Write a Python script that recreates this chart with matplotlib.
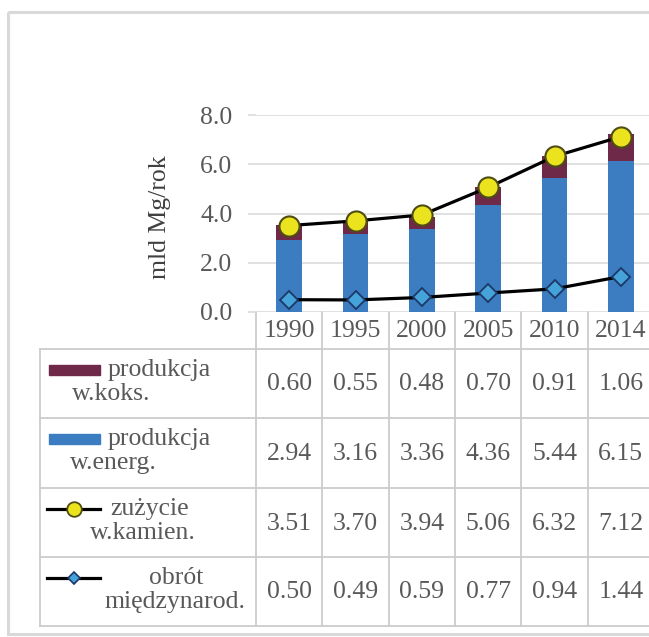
import numpy as np
import matplotlib
matplotlib.use('Agg')
import matplotlib.pyplot as plt
from matplotlib import transforms
from matplotlib.patches import Rectangle

# data (mld Mg/rok)
years = ['1990', '1995', '2000', '2005', '2010', '2014']
koks = [0.60, 0.55, 0.48, 0.70, 0.91, 1.06]
energ = [2.94, 3.16, 3.36, 4.36, 5.44, 6.15]
zuzycie = [3.51, 3.70, 3.94, 5.06, 6.32, 7.12]
obrot = [0.50, 0.49, 0.59, 0.77, 0.94, 1.44]
series_labels = [('produkcja', 'w.koks.'), ('produkcja', 'w.energ.'),
                 ('zużycie', 'w.kamien.'), ('obrót', 'międzynarod.')]

# styles
c_koks = '#6e2848'
c_energ = '#3b7dc0'
c_yellow = '#ebe31e'
c_yedge = '#4f4c14'
c_diam = '#45a3da'
c_dedge = '#1d3866'
c_grid = '#d9d9d9'
c_table = '#cccccc'
c_text = '#595959'
FS = 18.5

plt.rcParams['font.family'] = ['Liberation Serif', 'DejaVu Serif']

W, H = 649, 637
fig = plt.figure(figsize=(W / 100, H / 100), dpi=100)

# overlay in pixel units for the frame and the data table
tab = fig.add_axes([0, 0, 1, 1])
tab.set_xlim(0, W)
tab.set_ylim(H, 0)
tab.axis('off')

# chart axes
y0, y8 = 312, 115
x_left, x_right = 256, 654
ax = fig.add_axes([x_left / W, 1 - y0 / H, (x_right - x_left) / W, (y0 - y8) / H])
x = np.arange(len(years))
ax.set_xlim(-0.5, len(years) - 0.5)
ax.set_ylim(0, 8)
for s in ax.spines.values():
    s.set_visible(False)
ax.set_xticks([])
ax.set_yticks([0, 2, 4, 6, 8])
ax.set_yticklabels(['%.1f' % v for v in [0, 2, 4, 6, 8]])
ax.tick_params(axis='y', length=6, width=1.1, color=c_grid, pad=11,
               labelsize=FS, labelcolor=c_text)
ax.yaxis.grid(True, color=c_grid, linewidth=1.1)
ax.set_axisbelow(True)
ax.patch.set_alpha(0)

bw = 0.39
ax.bar(x, energ, bw, color=c_energ, zorder=2)
ax.bar(x, koks, bw, bottom=energ, color=c_koks, zorder=2)
ax.plot(x, zuzycie, color='black', lw=2.3, marker='o', ms=14.5,
        mfc=c_yellow, mec=c_yedge, mew=1.5, zorder=4, clip_on=False)
ax.plot(x, obrot, color='black', lw=2.3, marker='D', ms=9.5,
        mfc=c_diam, mec=c_dedge, mew=1.3, zorder=4, clip_on=False)

fig.text(160 / W, 1 - 217 / H, 'mld Mg/rok', rotation=90, ha='center',
         va='center', fontsize=FS, color='#404040')

# data table below the plot
blend = transforms.blended_transform_factory(ax.transData, tab.transData)
row_edges = [349, 418, 488, 557, 626]
tab_left = 40
for ry in row_edges:
    tab.plot([tab_left, W + 10], [ry, ry], color=c_table, lw=1.3, clip_on=False)
tab.plot([tab_left, tab_left], [row_edges[0], row_edges[-1]], color=c_table, lw=1.3)
for i in range(len(years) + 1):
    tab.plot([i - 0.5, i - 0.5], [y0, row_edges[-1]], color=c_table, lw=1.3,
             transform=blend)

for i, yr in enumerate(years):
    tab.text(i, 331, yr, transform=blend, ha='center', va='center',
             fontsize=FS, color=c_text)

rows = [koks, energ, zuzycie, obrot]
for r, vals in enumerate(rows):
    yc = (row_edges[r] + row_edges[r + 1]) / 2 + 1
    for i, v in enumerate(vals):
        tab.text(i, yc, '%.2f' % v, transform=blend, ha='center', va='center',
                 fontsize=FS, color=c_text)

# row headers: legend key plus two-line label
line_cx = [(159, 111), (159, 113), (150, 143), (176, 175)]
for r, (l1, l2) in enumerate(series_labels):
    top = row_edges[r]
    ya, yb = top + 21, top + 45
    tab.text(line_cx[r][0], ya, l1, ha='center', va='center', fontsize=FS,
             color=c_text)
    tab.text(line_cx[r][1], yb, l2, ha='center', va='center', fontsize=FS,
             color=c_text)
    if r < 2:
        tab.add_patch(Rectangle((49, ya - 5), 51, 10,
                                color=[c_koks, c_energ][r]))
    elif r == 2:
        tab.plot([47, 100], [ya, ya], color='black', lw=2.3)
        tab.plot([74], [ya], marker='o', ms=10.5, mfc=c_yellow, mec=c_yedge,
                 mew=1.3)
    else:
        tab.plot([47, 100], [ya, ya], color='black', lw=2.3)
        tab.plot([74], [ya], marker='D', ms=6.5, mfc=c_diam, mec=c_dedge,
                 mew=1.2)

# outer chart frame
tab.add_patch(Rectangle((8, 12), W + 20, 622, fill=False, edgecolor=c_grid,
                        lw=2.2, clip_on=False))

fig.savefig('out.png', dpi=100)
